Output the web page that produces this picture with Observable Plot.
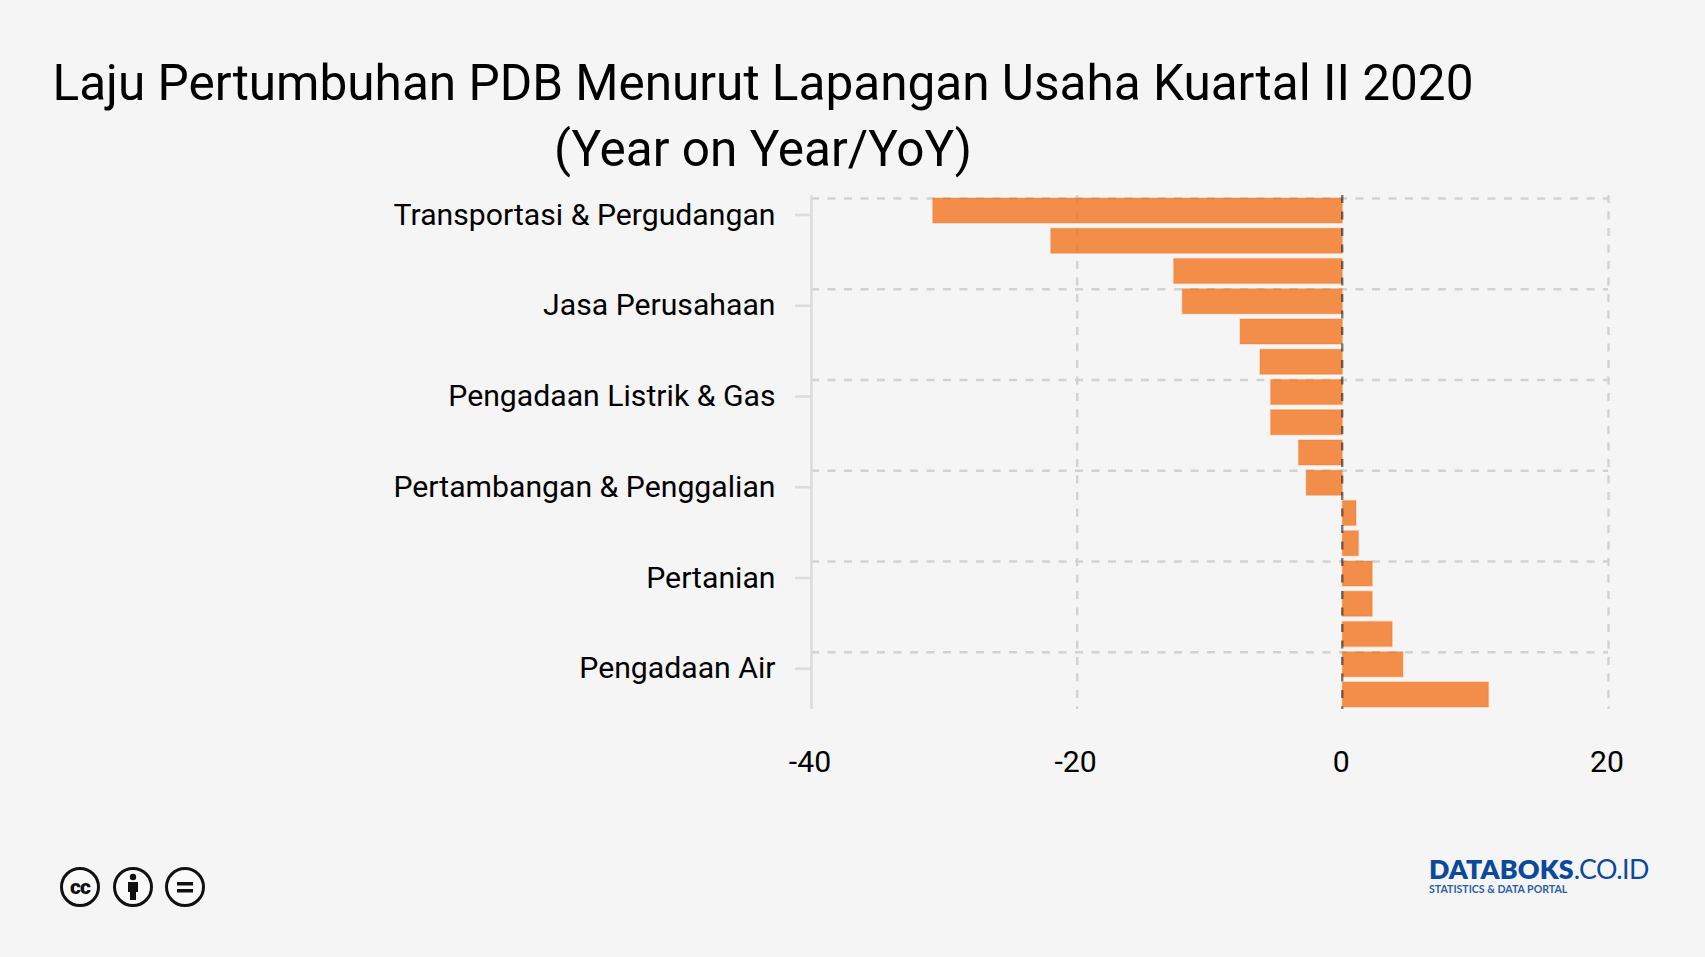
<!DOCTYPE html>
<html lang="id">
<head>
<meta charset="utf-8">
<title>Laju Pertumbuhan PDB</title>
<script src="https://cdn.jsdelivr.net/npm/d3@7"></script>
<script src="https://cdn.jsdelivr.net/npm/@observablehq/plot@0.6"></script>
<style>
html,body{margin:0;padding:0;background:#f5f5f5;overflow:hidden;}
body{width:1705px;height:957px;font-family:Roboto,sans-serif;color:#000;}
#head{height:190px;width:1705px;position:relative;}
#head div{position:absolute;left:0;width:1526px;text-align:center;font-size:49.5px;line-height:66px;white-space:nowrap;}
#chart{height:600px;}
#chart svg{display:block;}
#foot{position:relative;height:167px;}
#cc{position:absolute;left:58px;top:76px;}
#logo{position:absolute;left:1429px;top:64px;color:#0b4a9b;white-space:nowrap;}
#logo .a{font:800 26.8px/30px Lato,sans-serif;letter-spacing:.1px;}
#logo .a span{font-weight:400;letter-spacing:-.5px;}
#logo .b{font:700 10.6px/12px Lato,sans-serif;margin-top:-1px;color:#2d5fa6;}
</style>
</head>
<body>
<div id="head"><div style="top:50px">Laju Pertumbuhan PDB Menurut Lapangan Usaha Kuartal II 2020</div><div style="top:115.500px">(Year on Year/YoY)</div></div>
<div id="chart"></div>
<div id="foot">
<svg id="cc" width="150" height="44" viewBox="0 0 150 44" aria-label="Creative Commons BY-ND">
<g fill="#fafafa" stroke="#111" stroke-width="3">
<circle cx="22" cy="21" r="18.500"/><circle cx="75" cy="21" r="18.500"/><circle cx="127" cy="21" r="18.500"/></g>
<text x="22" y="28" text-anchor="middle" font-family="Roboto" font-weight="900" font-size="21" letter-spacing="-1" fill="#111">cc</text>
<circle cx="75" cy="11" r="3.2" fill="#111"/><path d="M70 16h10v10h-2v8h-6v-8h-2z" fill="#111"/>
<path d="M119 16h16v3.600h-16zM119 23h16v3.600h-16z" fill="#111"/>
</svg>
<div id="logo"><div class="a">DATABOKS<span>.CO.ID</span></div><div class="b">STATISTICS &amp; DATA PORTAL</div></div>
</div>
<script>
const categories = [
  "Transportasi & Pergudangan","Akomodasi & Makan Minum","Jasa Lainnya","Jasa Perusahaan",
  "Perdagangan","Industri Pengolahan","Pengadaan Listrik & Gas","Konstruksi",
  "Administrasi Pemerintahan","Pertambangan & Penggalian","Jasa Keuangan","Jasa Pendidikan",
  "Pertanian","Real Estate","Jasa Kesehatan","Pengadaan Air","Informasi & Komunikasi"
];
const growth = [-30.84,-21.95,-12.7,-12.05,-7.7,-6.2,-5.4,-5.4,-3.3,-2.72,1.03,1.21,2.25,2.25,3.75,4.56,11];
const yLabels = ["Transportasi & Pergudangan","Jasa Perusahaan","Pengadaan Listrik & Gas","Pertambangan & Penggalian","Pertanian","Pengadaan Air"];
const xTicks = [-40,-20,0,20];
const rows = categories.map((c,i)=>({category:c,value:growth[i]}));

const dash = "8,8.5", gridColor = "#d2d2d2";
const plot = Plot.plot({
  width:1705, height:600,
  marginTop:5, marginBottom:81, marginLeft:811, marginRight:97,
  style:{background:"transparent",fontFamily:"Roboto",fontSize:"30px",color:"#000"},
  x:{domain:[-40,20],range:[811,1608],label:null},
  y:{type:"band",domain:categories,range:[8,517],paddingInner:0.174,paddingOuter:0,align:0,round:false,label:null},
  marks:[
    Plot.ruleY(yLabels,{x1:-40,x2:20,dy:-12.5,stroke:gridColor,strokeWidth:2.4,strokeDasharray:dash}),
    Plot.ruleX([-20,20],{stroke:gridColor,strokeWidth:2.4,strokeDasharray:dash}),
    Plot.ruleX([-40],{stroke:"#dcdcdc",strokeWidth:2.6}),
    Plot.barX(rows,{y:"category",x1:0,x2:"value",fill:"#f2741f",fillOpacity:0.8,stroke:"#f2741f",strokeOpacity:0.25,strokeWidth:1.5}),
    Plot.ruleX([0],{dx:-0.6,stroke:"#000",strokeOpacity:0.5,strokeWidth:2.4,strokeDasharray:dash}),
    Plot.axisY({ticks:yLabels,tickSize:16,tickPadding:20,dy:4,stroke:"#dcdcdc",strokeWidth:2.6,label:null,fill:"#000",fontSize:30.2,tickFormat:d=>d}),
    Plot.axisX({ticks:xTicks,tickSize:0,tickPadding:41,dx:-1.5,tickFormat:d=>`${d}`,label:null,fontSize:30.2,anchor:"bottom"})
  ]
});
document.getElementById("chart").append(plot);
</script>
</body>
</html>
